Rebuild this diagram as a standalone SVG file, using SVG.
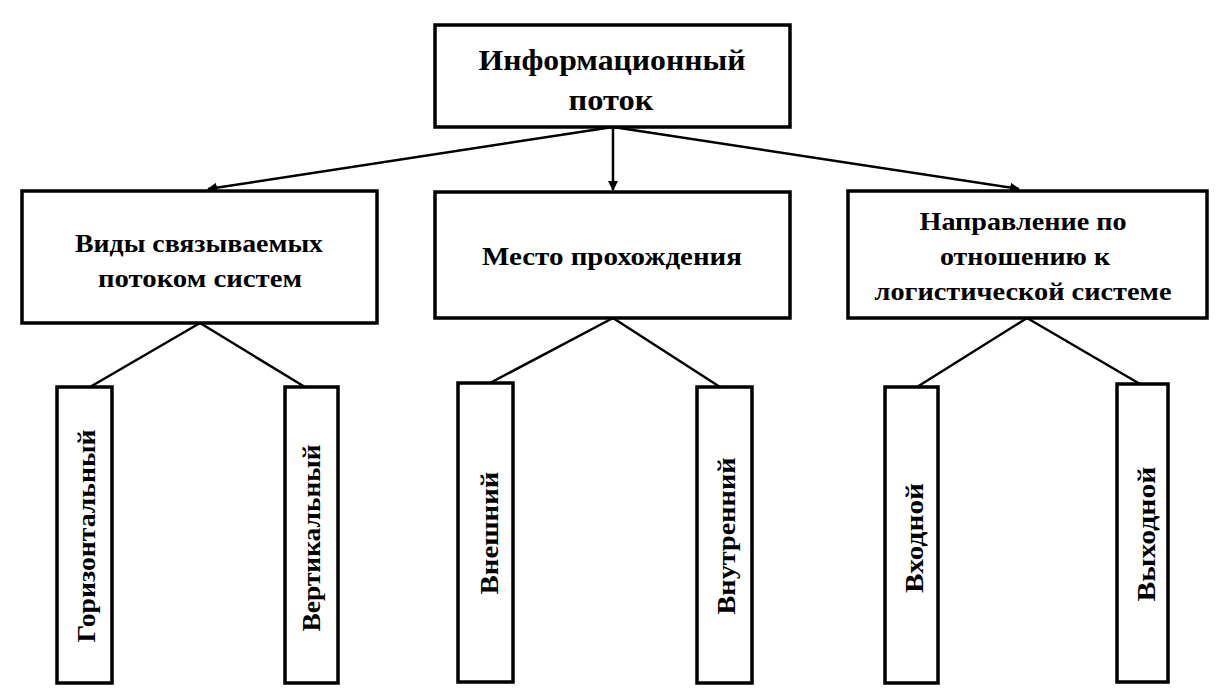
<svg xmlns="http://www.w3.org/2000/svg" width="1218" height="695" viewBox="0 0 1218 695">
<defs>
<marker id="ah" viewBox="0 0 10 10" refX="9" refY="5" markerWidth="4" markerHeight="4" orient="auto" markerUnits="strokeWidth">
<path d="M0,0 L10,5 L0,10 z" fill="#000"/>
</marker>
<style>
.box{fill:#fff;stroke:#000;stroke-width:3.5}
.t{font-family:"Liberation Serif","Times New Roman",serif;font-weight:bold;fill:#000;text-anchor:middle}
.big{font-size:30px}
.mid{font-size:25px}
.v{font-size:26px}
.c{stroke:#000;stroke-width:2.5;fill:none}
.a{stroke:#000;stroke-width:2.5;fill:none;marker-end:url(#ah)}
</style>
</defs>
<rect width="1218" height="695" fill="#fff"/>
<g id="connectors">
<line class="a" x1="613" y1="127" x2="208" y2="189"/>
<line class="a" x1="613" y1="127" x2="613" y2="190"/>
<line class="a" x1="613" y1="127" x2="1019" y2="189"/>
<line class="c" x1="200" y1="323" x2="90" y2="387"/>
<line class="c" x1="200" y1="323" x2="305" y2="387"/>
<line class="c" x1="613" y1="318" x2="490" y2="383"/>
<line class="c" x1="613" y1="318" x2="720" y2="387"/>
<line class="c" x1="1027" y1="318" x2="917" y2="387"/>
<line class="c" x1="1027" y1="318" x2="1140" y2="384"/>
</g>
<g id="n-root">
<rect class="box" x="435" y="25" width="355" height="102"/>
<text class="t big" x="612" y="70" textLength="267" lengthAdjust="spacingAndGlyphs">Информационный</text>
<text class="t big" x="611" y="110" textLength="85" lengthAdjust="spacingAndGlyphs">поток</text>
</g>
<g id="n-types">
<rect class="box" x="22" y="191" width="355" height="132"/>
<text class="t mid" x="199" y="252" textLength="248" lengthAdjust="spacingAndGlyphs">Виды связываемых</text>
<text class="t mid" x="200" y="287" textLength="204" lengthAdjust="spacingAndGlyphs">потоком систем</text>
</g>
<g id="n-place">
<rect class="box" x="435" y="192" width="355" height="126"/>
<text class="t mid" x="612" y="265" textLength="260" lengthAdjust="spacingAndGlyphs">Место прохождения</text>
</g>
<g id="n-dir">
<rect class="box" x="848" y="191" width="359" height="127"/>
<text class="t mid" x="1023" y="230" textLength="207" lengthAdjust="spacingAndGlyphs">Направление по</text>
<text class="t mid" x="1025" y="265" textLength="170" lengthAdjust="spacingAndGlyphs">отношению к</text>
<text class="t mid" x="1023" y="300" textLength="297" lengthAdjust="spacingAndGlyphs">логистической системе</text>
</g>
<g id="n-horiz">
<rect class="box" x="57" y="387" width="55" height="296"/>
<text class="t v" transform="translate(95,536) rotate(-90)" textLength="213" lengthAdjust="spacingAndGlyphs">Горизонтальный</text>
</g>
<g id="n-vert">
<rect class="box" x="285" y="387" width="53" height="296"/>
<text class="t v" transform="translate(320,538) rotate(-90)" textLength="187" lengthAdjust="spacingAndGlyphs">Вертикальный</text>
</g>
<g id="n-ext">
<rect class="box" x="458" y="383" width="55" height="299"/>
<text class="t v" transform="translate(498,533) rotate(-90)" textLength="123" lengthAdjust="spacingAndGlyphs">Внешний</text>
</g>
<g id="n-int">
<rect class="box" x="697" y="387" width="55" height="296"/>
<text class="t v" transform="translate(735,536) rotate(-90)" textLength="157" lengthAdjust="spacingAndGlyphs">Внутренний</text>
</g>
<g id="n-in">
<rect class="box" x="885" y="387" width="53" height="296"/>
<text class="t v" transform="translate(923,538) rotate(-90)" textLength="110" lengthAdjust="spacingAndGlyphs">Входной</text>
</g>
<g id="n-out">
<rect class="box" x="1117" y="384" width="51" height="298"/>
<text class="t v" transform="translate(1155,534) rotate(-90)" textLength="135" lengthAdjust="spacingAndGlyphs">Выходной</text>
</g>
</svg>
